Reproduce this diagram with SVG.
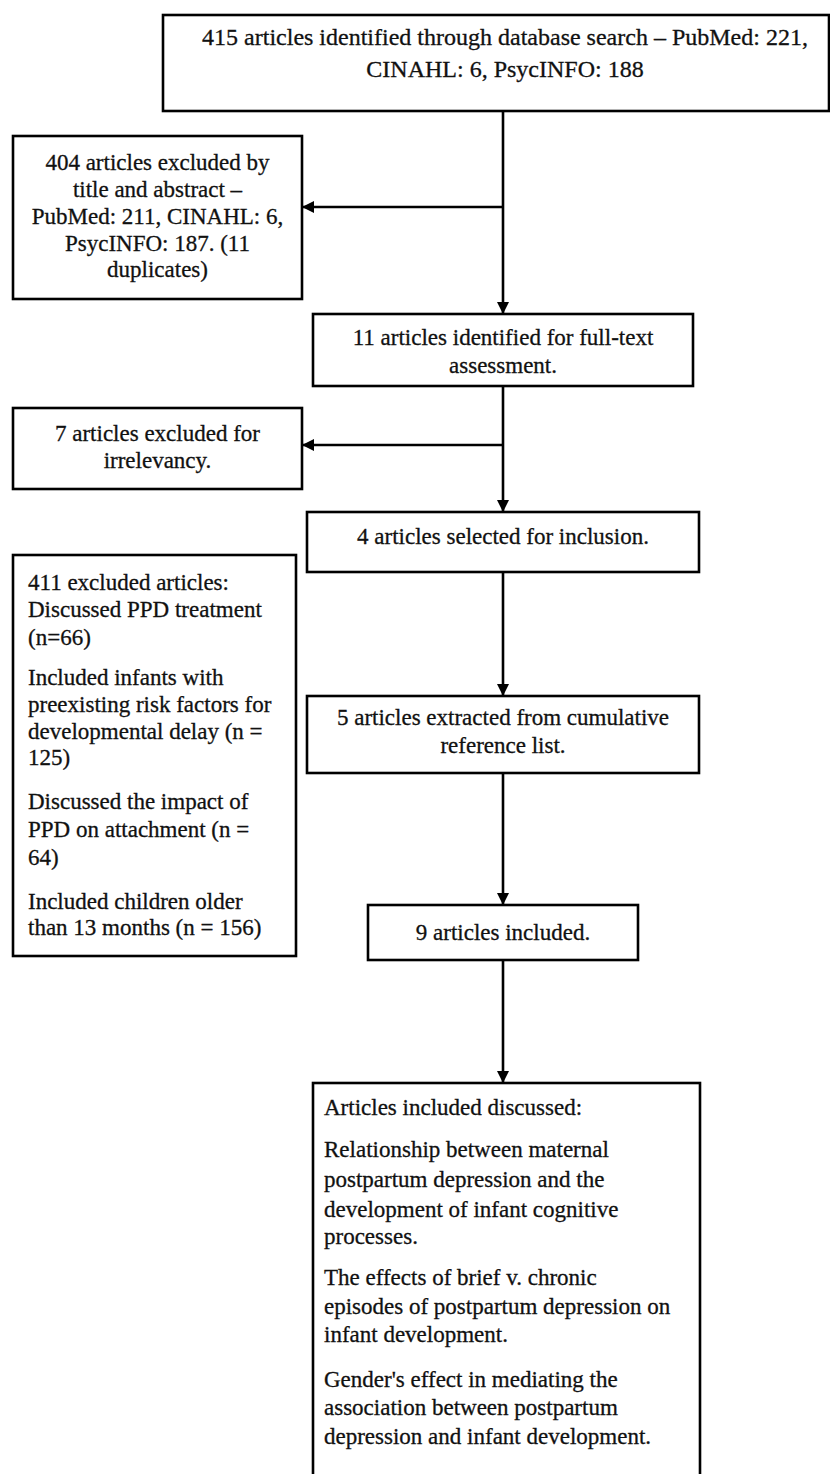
<svg xmlns="http://www.w3.org/2000/svg" width="830" height="1474" viewBox="0 0 830 1474">
<style>
  rect.box { fill: #ffffff; stroke: #000000; stroke-width: 2.6; }
  line.conn { stroke: #000000; stroke-width: 2.6; }
  text.t { font-family: "Liberation Serif", "Times New Roman", serif; font-size: 23px; fill: #111111; stroke: #111111; stroke-width: 0.3; }
  text.c { text-anchor: middle; }
  text.big { font-size: 24px; }
</style>
<defs>
  <marker id="ah" viewBox="0 0 12 12" markerWidth="12" markerHeight="12" refX="12" refY="6" orient="auto" markerUnits="userSpaceOnUse">
    <path d="M0,0 L12,6 L0,12 z" fill="#000000"/>
  </marker>
</defs>
<rect x="0" y="0" width="830" height="1474" fill="#ffffff"/>

<g id="connectors">
  <line class="conn" x1="503" y1="111" x2="503" y2="314" marker-end="url(#ah)"/>
  <line class="conn" x1="503" y1="207" x2="302" y2="207" marker-end="url(#ah)"/>
  <line class="conn" x1="503" y1="386" x2="503" y2="512" marker-end="url(#ah)"/>
  <line class="conn" x1="503" y1="445" x2="302" y2="445" marker-end="url(#ah)"/>
  <line class="conn" x1="503" y1="572" x2="503" y2="696" marker-end="url(#ah)"/>
  <line class="conn" x1="503" y1="773" x2="503" y2="905" marker-end="url(#ah)"/>
  <line class="conn" x1="503" y1="960" x2="503" y2="1083" marker-end="url(#ah)"/>
</g>

<g id="n-search">
  <rect class="box" x="163" y="15" width="666" height="96"/>
  <text class="t c big" x="505" y="45">415 articles identified through database search – PubMed: 221,</text>
  <text class="t c big" x="505" y="77">CINAHL: 6, PsycINFO: 188</text>
</g>

<g id="n-excluded-title">
  <rect class="box" x="13" y="136" width="289" height="163"/>
  <text class="t c" x="157.5" y="170">404 articles excluded by</text>
  <text class="t c" x="157.5" y="197">title and abstract –</text>
  <text class="t c" x="157.5" y="224">PubMed: 211, CINAHL: 6,</text>
  <text class="t c" x="157.5" y="251">PsycINFO: 187. (11</text>
  <text class="t c" x="157.5" y="277">duplicates)</text>
</g>

<g id="n-fulltext">
  <rect class="box" x="313" y="314" width="380" height="72"/>
  <text class="t c" x="503" y="345">11 articles identified for full-text</text>
  <text class="t c" x="503" y="373">assessment.</text>
</g>

<g id="n-irrelevant">
  <rect class="box" x="13" y="408" width="289" height="81"/>
  <text class="t c" x="157.5" y="441">7 articles excluded for</text>
  <text class="t c" x="157.5" y="468">irrelevancy.</text>
</g>

<g id="n-selected">
  <rect class="box" x="307" y="512" width="392" height="60"/>
  <text class="t c" x="503" y="544">4 articles selected for inclusion.</text>
</g>

<g id="n-excluded-list">
  <rect class="box" x="13" y="555" width="283" height="401"/>
  <text class="t" x="28" y="590">411 excluded articles:</text>
  <text class="t" x="28" y="617">Discussed PPD treatment</text>
  <text class="t" x="28" y="645">(n=66)</text>
  <text class="t" x="28" y="685">Included infants with</text>
  <text class="t" x="28" y="712">preexisting risk factors for</text>
  <text class="t" x="28" y="739">developmental delay (n =</text>
  <text class="t" x="28" y="765">125)</text>
  <text class="t" x="28" y="809">Discussed the impact of</text>
  <text class="t" x="28" y="837">PPD on attachment (n =</text>
  <text class="t" x="28" y="865">64)</text>
  <text class="t" x="28" y="909">Included children older</text>
  <text class="t" x="28" y="935">than 13 months (n = 156)</text>
</g>

<g id="n-extracted">
  <rect class="box" x="307" y="696" width="392" height="77"/>
  <text class="t c" x="503" y="725">5 articles extracted from cumulative</text>
  <text class="t c" x="503" y="753">reference list.</text>
</g>

<g id="n-included">
  <rect class="box" x="368" y="905" width="270" height="55"/>
  <text class="t c" x="503" y="940">9 articles included.</text>
</g>

<g id="n-discussed">
  <rect class="box" x="313" y="1083" width="387" height="400"/>
  <text class="t" x="324" y="1115">Articles included discussed:</text>
  <text class="t" x="324" y="1157">Relationship between maternal</text>
  <text class="t" x="324" y="1187">postpartum depression and the</text>
  <text class="t" x="324" y="1217">development of infant cognitive</text>
  <text class="t" x="324" y="1244">processes.</text>
  <text class="t" x="324" y="1285">The effects of brief v. chronic</text>
  <text class="t" x="324" y="1314">episodes of postpartum depression on</text>
  <text class="t" x="324" y="1342">infant development.</text>
  <text class="t" x="324" y="1387">Gender's effect in mediating the</text>
  <text class="t" x="324" y="1415">association between postpartum</text>
  <text class="t" x="324" y="1444">depression and infant development.</text>
</g>
</svg>
